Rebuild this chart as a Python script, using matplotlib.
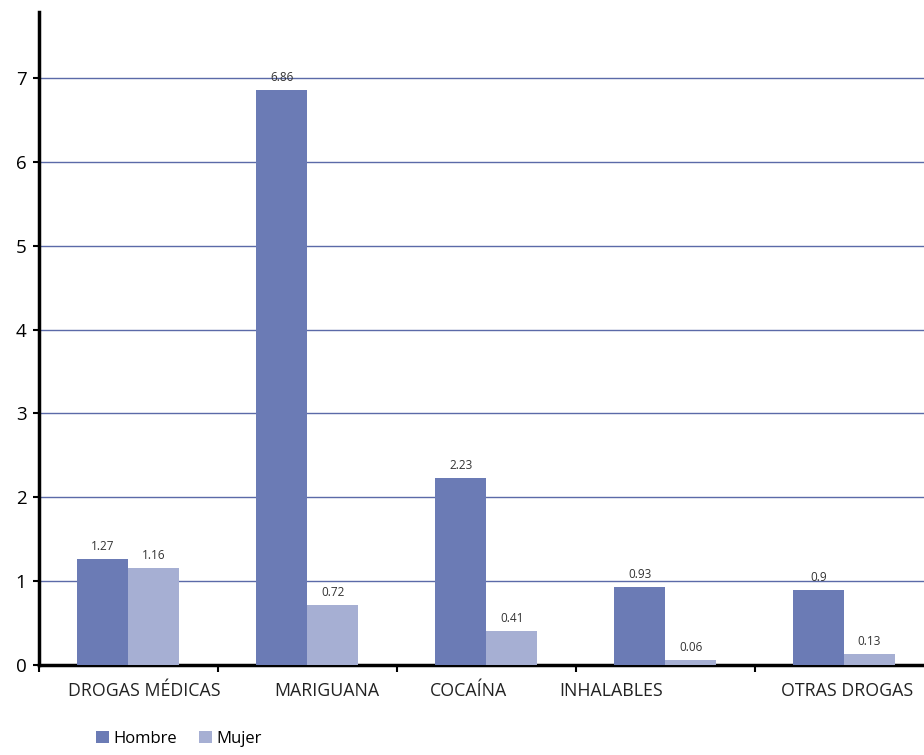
import matplotlib.pyplot as plt
import numpy as np

plt.rcParams['font.family'] = ['Open Sans', 'DejaVu Sans']

# consumption by drug and sex
categorias = ["DROGAS MÉDICAS", "MARIGUANA", "COCAÍNA", "INHALABLES", "OTRAS DROGAS"]
hombre = [1.27, 6.86, 2.23, 0.93, 0.9]
mujer = [1.16, 0.72, 0.41, 0.06, 0.13]
# category labels sit slightly off the group centres
pos_etiquetas = [0.09, 1.11, 1.90, 2.70, 4.02]

color_h = "#6b7bb5"
color_m = "#a6afd3"
color_grid = "#5b6aa8"

fig = plt.figure(figsize=(9.24, 7.55), dpi=100)
ax = fig.add_axes([39 / 924, 1 - 665 / 755, 1 - 39 / 924, (665 - 12) / 755])

x = np.arange(len(categorias))
ancho = 0.285
b1 = ax.bar(x - ancho / 2, hombre, ancho, color=color_h, label="Hombre", zorder=3)
b2 = ax.bar(x + ancho / 2, mujer, ancho, color=color_m, label="Mujer", zorder=3)

for rects, vals in ((b1, hombre), (b2, mujer)):
    for r, v in zip(rects, vals):
        ax.text(r.get_x() + r.get_width() / 2, v + 0.07, f"{v:g}",
                ha="center", va="bottom", fontsize=8.5, color="#333333")

ax.set_xlim(-0.5, 4.447)
ax.set_ylim(0, 7.787)
ax.set_yticks(range(0, 8))
ax.tick_params(axis="y", labelsize=13.5, length=4, width=1.5, pad=5)
for yv in range(1, 8):
    ax.axhline(yv, color=color_grid, lw=1, zorder=1)

# ticks between categories
ax.set_xticks(np.arange(len(categorias)) - 0.5)
ax.set_xticklabels([])
ax.tick_params(axis="x", length=5, width=1.5, direction="out")
for lbl, px in zip(categorias, pos_etiquetas):
    ax.text(px, -0.31, lbl, ha="center", va="center", fontsize=12.8, color="#222222")

for s in ("top", "right"):
    ax.spines[s].set_visible(False)
ax.spines["left"].set_linewidth(2.5)
ax.spines["bottom"].set_linewidth(2.5)

fig.legend(loc="lower left", bbox_to_anchor=(88 / 924, 0.0), ncol=2, frameon=False,
           fontsize=12, handlelength=0.75, handleheight=0.75, handletextpad=0.3,
           columnspacing=1.3, borderaxespad=0.1)

fig.savefig("out.png", dpi=100)
